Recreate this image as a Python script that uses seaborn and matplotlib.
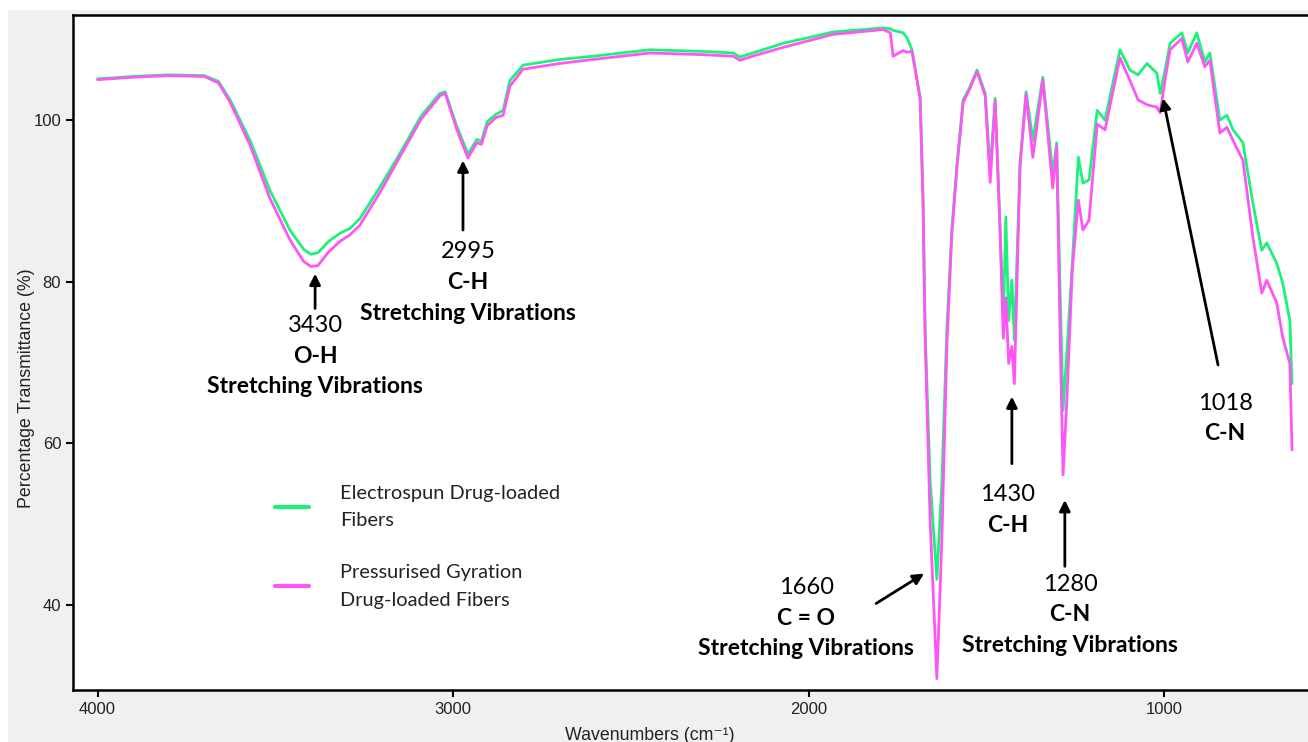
import numpy as np
import pandas as pd
import seaborn as sns
import matplotlib.pyplot as plt
from matplotlib.patches import Rectangle

# -------------------------------
# Data
# -------------------------------

wavenumbers = [4000, 3900, 3800, 3700, 3660, 3627, 3571, 3515, 3459, 3420,
               3400, 3380, 3350, 3318, 3290, 3262, 3206, 3149, 3090, 3037,
               3022, 2990, 2958, 2933, 2920, 2904, 2880, 2859, 2840, 2803,
               2700, 2606, 2446, 2300, 2212, 2193, 2150, 2071, 1931, 1790,
               1770, 1762, 1734, 1723, 1709, 1686, 1678, 1672, 1658, 1639,
               1625, 1611, 1597, 1582, 1565, 1546, 1526, 1503, 1489, 1475,
               1461, 1452, 1445, 1437, 1428, 1421, 1405, 1388, 1369, 1341,
               1313, 1302, 1293, 1284, 1273, 1258, 1241, 1228, 1211, 1188,
               1166, 1124, 1096, 1073, 1048, 1020, 1011, 997, 983, 950,
               933, 908, 885, 871, 843, 823, 806, 778, 750, 725,
               711, 683, 666, 646, 640]

electrospun = [105.1, 105.4, 105.6, 105.5, 104.8, 102.5, 97.5, 91.3, 86.4, 84.0,
               83.4, 83.6, 85.0, 86.0, 86.6, 87.8, 91.7, 95.9, 100.5, 103.3,
               103.5, 99.3, 95.8, 97.6, 97.4, 99.8, 100.7, 101.2, 104.9, 106.8,
               107.5, 107.9, 108.7, 108.5, 108.3, 107.8, 108.4, 109.5, 110.9, 111.4,
               111.3, 111.1, 110.8, 110.2, 108.7, 102.8, 90.5, 74.0, 55.4, 43.2,
               55.0, 74.0, 86.4, 94.7, 102.5, 104.1, 106.2, 103.3, 93.8, 102.7,
               86.4, 75.0, 88.0, 75.2, 80.2, 72.8, 94.7, 103.5, 97.5, 105.3,
               93.4, 97.2, 80.0, 64.1, 71.5, 82.3, 95.4, 92.2, 92.6, 101.2,
               100.0, 108.7, 106.2, 105.6, 107.0, 105.8, 103.3, 106.2, 109.5, 110.8,
               108.3, 110.8, 107.2, 108.3, 100.0, 100.6, 98.8, 97.2, 89.7, 83.9,
               84.8, 82.3, 79.8, 75.2, 67.4]

gyration = [105.0, 105.3, 105.5, 105.4, 104.6, 102.2, 96.9, 90.3, 85.2, 82.5,
            81.9, 82.0, 83.7, 85.0, 85.8, 87.0, 91.0, 95.5, 100.1, 103.0,
            103.3, 98.9, 95.3, 97.2, 97.0, 99.3, 100.3, 100.6, 104.2, 106.3,
            107.0, 107.5, 108.3, 108.1, 107.9, 107.4, 108.0, 109.0, 110.6, 111.2,
            110.8, 107.9, 108.6, 108.4, 108.5, 102.6, 90.0, 73.0, 50.5, 30.9,
            48.0, 72.0, 85.8, 94.4, 102.2, 103.9, 106.0, 103.0, 92.3, 102.4,
            86.0, 73.0, 78.0, 69.9, 72.0, 67.4, 94.3, 103.2, 95.4, 105.0,
            91.6, 96.8, 75.0, 56.1, 65.7, 81.5, 90.1, 86.4, 87.6, 99.5,
            98.8, 107.7, 104.9, 102.5, 101.9, 101.6, 100.9, 105.0, 108.7, 110.1,
            107.2, 109.5, 106.6, 107.4, 98.4, 99.1, 97.5, 95.0, 85.5, 78.6,
            80.2, 77.4, 73.1, 69.9, 59.2]

series_names = ["Electrospun Drug-loaded\nFibers",
                "Pressurised Gyration\nDrug-loaded Fibers"]
series_colors = ["#1ef07c", "#ff55f5"]

x_ticks = [4000, 3000, 2000, 1000]
y_ticks = [40, 60, 80, 100]

# peak labels: (number, bold lines, text x, text y, arrow tail, arrow head)
peaks = [
    ("3430", ["O-H", "Stretching Vibrations"], 3388, 74.6, (3388, 76.7), (3388, 81.0)),
    ("2995", ["C-H", "Stretching Vibrations"], 2958, 83.7, (2972, 86.4), (2972, 95.0)),
    ("1660", ["C = O", "Stretching Vibrations"], 2007, 42.2, (1810, 40.2), (1675, 43.9)),
    ("1430", ["C-H"], 1439, 53.7, (1428, 57.5), (1428, 65.8)),
    ("1280", ["C-N", "Stretching Vibrations"], 1264, 42.6, (1279, 44.8), (1279, 53.0)),
    ("1018", ["C-N"], 828, 65.0, (848, 69.7), (1003, 102.7)),
]

df = pd.DataFrame({
    "Wavenumber": wavenumbers * 2,
    "Transmittance": electrospun + gyration,
    "Sample": [series_names[0]] * len(wavenumbers) + [series_names[1]] * len(wavenumbers),
})

# -------------------------------
# Plot
# -------------------------------

sns.set_style("ticks")
plt.rcParams["font.family"] = ["Liberation Sans", "DejaVu Sans"]

fig = plt.figure(figsize=(13.08, 7.42), dpi=100, facecolor="white")
# grey panel behind the plot (like the original screenshot)
fig.add_artist(Rectangle((8 / 1308, 0), 1, 1 - 10 / 742, transform=fig.transFigure,
                         facecolor="#f0f0f0", edgecolor="none", zorder=-5))
ax = fig.add_axes([73 / 1308, 52 / 742, 1235 / 1308, 675 / 742])
ax.set_zorder(2)
ax.set_facecolor("white")

sns.lineplot(data=df, x="Wavenumber", y="Transmittance", hue="Sample",
             palette=series_colors, sort=False, estimator=None,
             linewidth=2.0, ax=ax)

ax.set_xlim(4069, 595)
ax.set_ylim(29.5, 113)
ax.set_xticks(x_ticks)
ax.set_yticks(y_ticks)
ax.tick_params(axis="both", direction="out", length=5, width=1.5, labelsize=12,
               color="black", labelcolor="#222222")
for side in ["left", "bottom", "top"]:
    ax.spines[side].set_linewidth(1.8)
    ax.spines[side].set_color("black")
ax.spines["right"].set_visible(False)

ax.set_xlabel("Wavenumbers (cm⁻¹)", fontsize=12.8, color="#222222")
ax.xaxis.set_label_coords(0.467, -0.055)
ax.set_ylabel("Percentage Transmittance (%)", fontsize=12.8, color="#222222")
ax.yaxis.set_label_coords(-0.031, 0.447)

# peak annotations
for number, lines, tx, ty, tail, head in peaks:
    ax.annotate("", xy=head, xytext=tail,
                arrowprops=dict(arrowstyle="-|>", color="black", lw=2,
                                mutation_scale=16, shrinkA=0, shrinkB=0))
    ax.text(tx, ty, number, ha="center", va="center", fontsize=17,
            family="Lato", color="black")
    for i, line in enumerate(lines):
        ax.text(tx, ty - 3.8 * (i + 1), line, ha="center", va="center",
                fontsize=16.5, family="Lato", fontweight="bold", color="black")

leg = ax.legend(loc="upper left", bbox_to_anchor=(0.149, 0.331), frameon=False,
                handlelength=1.7, handletextpad=1.55, labelspacing=1.75,
                prop={"family": "Lato", "size": 14.4})
for line in leg.get_lines():
    line.set_linewidth(3)
for txt in leg.get_texts():
    txt.set_linespacing(1.75)
    txt.set_color("#222222")

plt.savefig("out.png", dpi=100)
